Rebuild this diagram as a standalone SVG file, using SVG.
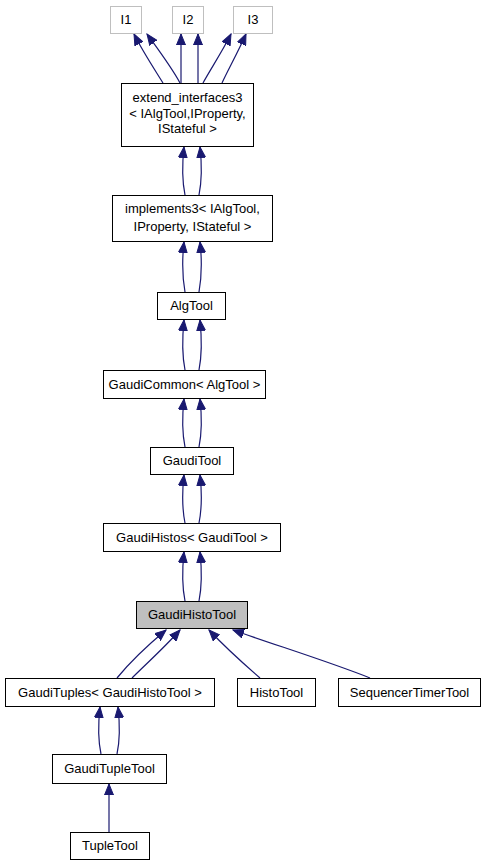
<svg xmlns="http://www.w3.org/2000/svg" width="485" height="867" viewBox="0 0 485 867">
<style>
.b{fill:#fff;stroke:#000;stroke-width:1}
.g{fill:#fff;stroke:#bfbfbf;stroke-width:1}
.s{fill:#bfbfbf;stroke:#000;stroke-width:1}
text{font-family:"Liberation Sans",Arial,sans-serif;font-size:13px;fill:#000;text-anchor:middle}
.e{fill:none;stroke:#191970;stroke-width:1.2;marker-end:url(#a)}
</style>
<defs>
<marker id="a" markerWidth="12" markerHeight="10" refX="11" refY="5" orient="auto" markerUnits="userSpaceOnUse">
<path d="M0,0.5 L11,5 L0,9.5 Z" fill="#191970" stroke="#191970" stroke-width="1"/>
</marker>
</defs>
<rect width="485" height="867" fill="#fff"/>
<g id="edges">
<path class="e" d="M163,83 C155,70 143,52 134,34"/>
<path class="e" d="M180,83 C172,68 160,52 147,34"/>
<path class="e" d="M181,83 C181,70 181,50 181,34"/>
<path class="e" d="M198,83 C198,70 198,50 198,34"/>
<path class="e" d="M203,83 C210,70 222,52 231,34"/>
<path class="e" d="M222,83 C228,70 238,52 246,34"/>
<path class="e" d="M185,195 C182,180 182,165 184,147"/>
<path class="e" d="M199,195 C202,180 202,165 200,147"/>
<path class="e" d="M185,292 C182,275 182,260 184,242"/>
<path class="e" d="M199,292 C202,275 202,260 200,242"/>
<path class="e" d="M185,370 C182,355 182,340 184,320"/>
<path class="e" d="M199,370 C202,355 202,340 200,320"/>
<path class="e" d="M185,447 C182,432 182,417 184,399"/>
<path class="e" d="M199,447 C202,432 202,417 200,399"/>
<path class="e" d="M185,523 C182,508 182,493 184,475"/>
<path class="e" d="M199,523 C202,508 202,493 200,475"/>
<path class="e" d="M185,601 C182,586 182,571 184,552"/>
<path class="e" d="M199,601 C202,586 202,571 200,552"/>
<path class="e" d="M117,678 C130,662 148,645 166,630"/>
<path class="e" d="M132,678 C146,664 164,648 180,630"/>
<path class="e" d="M260,678 C245,665 226,648 209,630"/>
<path class="e" d="M370,678 C330,662 275,645 233,630"/>
<path class="e" d="M101,754 C98,740 98,725 100,707"/>
<path class="e" d="M117,754 C120,740 120,725 118,707"/>
<path class="e" d="M109,832 L109,784"/>
</g>
<g id="I1"><rect class="g" x="110.5" y="6.5" width="31" height="27"/><text x="126" y="24">I1</text></g>
<g id="I2"><rect class="g" x="172.5" y="6.5" width="31" height="27"/><text x="188" y="24">I2</text></g>
<g id="I3"><rect class="g" x="233.5" y="6.5" width="39" height="27"/><text x="253" y="24">I3</text></g>
<g id="extend_interfaces3"><rect class="b" x="121.5" y="83.5" width="132" height="63"/><text x="187.5" y="102">extend_interfaces3</text><text x="187.5" y="118">&lt; IAlgTool,IProperty,</text><text x="187.5" y="133">IStateful &gt;</text></g>
<g id="implements3"><rect class="b" x="112.5" y="195.5" width="160" height="46"/><text x="192.5" y="213">implements3&lt; IAlgTool,</text><text x="192.5" y="231">IProperty, IStateful &gt;</text></g>
<g id="AlgTool"><rect class="b" x="157.5" y="292.5" width="68" height="27"/><text x="191.5" y="310">AlgTool</text></g>
<g id="GaudiCommon"><rect class="b" x="103.5" y="370.5" width="162" height="28"/><text x="184.5" y="389">GaudiCommon&lt; AlgTool &gt;</text></g>
<g id="GaudiTool"><rect class="b" x="150.5" y="447.5" width="83" height="27"/><text x="192" y="465">GaudiTool</text></g>
<g id="GaudiHistos"><rect class="b" x="103.5" y="523.5" width="177" height="28"/><text x="192" y="542">GaudiHistos&lt; GaudiTool &gt;</text></g>
<g id="GaudiHistoTool"><rect class="s" x="136.5" y="601.5" width="111" height="27"/><text x="192" y="619">GaudiHistoTool</text></g>
<g id="GaudiTuples"><rect class="b" x="5.5" y="678.5" width="209" height="28"/><text x="110" y="697">GaudiTuples&lt; GaudiHistoTool &gt;</text></g>
<g id="HistoTool"><rect class="b" x="237.5" y="678.5" width="78" height="28"/><text x="276.5" y="697">HistoTool</text></g>
<g id="SequencerTimerTool"><rect class="b" x="338.5" y="678.5" width="142" height="28"/><text x="409.5" y="697">SequencerTimerTool</text></g>
<g id="GaudiTupleTool"><rect class="b" x="52.5" y="754.5" width="114" height="29"/><text x="109.5" y="773">GaudiTupleTool</text></g>
<g id="TupleTool"><rect class="b" x="70.5" y="832.5" width="79" height="27"/><text x="110" y="850">TupleTool</text></g>
</svg>
